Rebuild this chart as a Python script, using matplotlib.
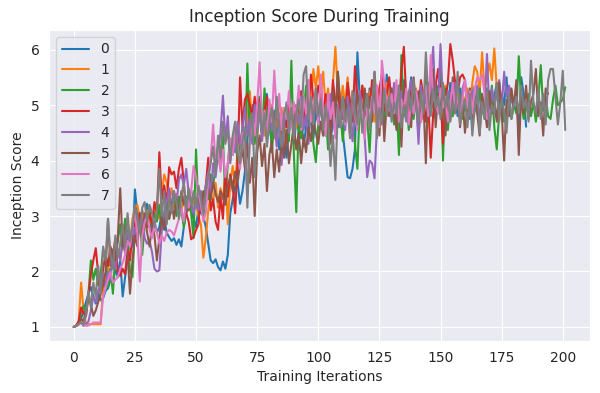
import matplotlib
matplotlib.use("Agg")
import matplotlib.pyplot as plt
import seaborn as sns

labels = ["0", "1", "2", "3", "4", "5", "6", "7"]

s0 = [1.00, 1.02, 1.05, 1.15, 1.30, 1.45, 1.60, 1.72, 1.55, 1.42,
      1.60, 1.48, 1.52, 1.65, 1.70, 1.85, 1.78, 2.05, 1.90, 2.20,
      1.55, 1.90, 2.30, 2.60, 2.45, 3.48, 3.05, 2.90, 3.10, 2.85,
      3.22, 2.95, 2.75, 2.90, 2.70, 2.80, 3.05, 2.95, 2.70, 2.62,
      2.55, 2.60, 2.48, 2.58, 2.45, 2.80, 3.05, 3.20, 3.10, 2.95,
      2.80, 3.15, 3.05, 3.00, 2.80, 2.50, 2.20, 2.15, 2.22, 2.08,
      2.02, 2.18, 2.05, 2.30, 3.05, 3.30, 3.55, 3.60, 3.22, 3.45,
      3.80, 4.40, 4.85, 5.00, 4.70, 5.05, 4.80, 4.55, 4.95, 5.20,
      4.60, 4.35, 4.90, 4.55, 4.20, 4.75, 4.45, 4.05, 4.60, 4.95,
      4.30, 4.70, 4.55, 4.85, 4.25, 4.60, 5.00, 4.70, 4.40, 4.90,
      4.65, 5.05, 4.80, 4.45, 4.95, 4.35, 4.70, 5.10, 4.60, 4.85,
      4.50, 4.10, 3.70, 3.68, 3.85, 4.20, 5.95, 5.10, 4.70, 5.25,
      4.85, 5.30, 4.95, 5.40, 5.00, 4.75, 5.20, 4.90, 5.55, 5.10,
      4.85, 5.35, 5.00, 4.70, 5.20, 5.45, 4.95, 5.10, 5.50, 4.85,
      5.15, 4.80, 5.30, 5.00, 5.45, 4.90, 5.20, 5.05, 4.75, 5.35,
      5.10, 4.95, 5.25, 4.85, 5.40, 5.00, 5.15, 4.80, 5.30, 5.05,
      4.90, 5.20, 4.75, 5.35, 5.00, 4.85, 5.25, 5.10, 4.80, 5.30,
      5.00, 4.85, 5.15, 5.40, 4.95, 5.20, 5.00, 5.50, 4.85, 5.25,
      4.95, 5.35, 4.38, 5.50, 5.20, 4.61]

s1 = [1.00, 1.02, 1.10, 1.80, 1.30, 1.05, 1.05, 1.05, 1.05, 1.05,
      1.05, 1.05, 1.70, 1.90, 2.10, 1.95, 2.25, 2.05, 2.40, 2.20,
      2.60, 2.35, 2.75, 2.50, 2.95, 3.15, 3.20, 2.95, 3.05, 2.80,
      3.10, 2.90, 2.85, 3.05, 3.25, 2.95, 3.40, 3.75, 3.60, 3.30,
      3.50, 3.15, 3.40, 3.25, 3.05, 3.35, 3.20, 3.45, 3.10, 3.30,
      3.20, 3.00, 2.85, 2.25, 2.60, 3.10, 3.40, 3.25, 3.60, 3.15,
      3.50, 3.30, 3.75, 2.85, 3.60, 3.90, 3.55, 4.20, 4.00, 4.50,
      4.35, 4.75, 5.25, 4.60, 4.95, 4.40, 5.15, 4.70, 4.45, 4.90,
      4.55, 5.00, 4.40, 4.75, 4.60, 4.95, 4.30, 4.85, 4.55, 4.70,
      4.95, 4.60, 4.85, 5.20, 4.75, 5.05, 5.45, 5.00, 5.65, 5.30,
      5.70, 5.15, 5.60, 4.95, 5.30, 4.85, 5.40, 6.05, 5.20, 4.95,
      5.35, 5.00, 5.50, 4.90, 5.25, 4.80, 5.10, 4.95, 5.35, 5.05,
      4.85, 5.25, 5.00, 4.70, 5.30, 4.95, 5.15, 4.80, 5.40, 5.05,
      4.90, 5.20, 4.60, 5.35, 5.05, 4.85, 5.25, 4.95, 5.10, 4.80,
      5.30, 4.95, 5.15, 4.75, 5.40, 5.05, 4.90, 5.25, 5.00, 5.20,
      4.85, 5.15, 5.35, 4.95, 5.10, 4.80, 5.25, 5.00, 4.90, 5.20,
      5.05, 5.30, 4.95, 5.40, 5.70, 5.60, 5.20, 5.95, 5.30, 5.50,
      5.75, 5.45, 6.02, 5.30, 4.85]

s2 = [1.00, 1.02, 1.05, 1.30, 1.38, 1.25, 1.60, 2.20, 1.85, 2.05,
      1.75, 1.95, 2.40, 2.20, 1.70, 2.05, 1.60, 2.30, 2.55, 2.85,
      2.40, 2.95, 2.65, 2.00, 1.90, 2.75, 2.60, 3.05, 2.30, 2.85,
      2.95, 3.10, 2.80, 3.05, 2.90, 3.20, 2.75, 3.05, 3.30, 2.95,
      3.20, 3.45, 3.00, 3.35, 3.10, 2.80, 3.15, 3.45, 3.05, 2.60,
      4.20, 3.10, 3.35, 2.95, 3.50, 3.30, 3.75, 3.55, 3.90, 4.15,
      3.85, 4.45, 3.25, 3.95, 4.35, 4.10, 4.50, 3.95, 4.25, 4.60,
      4.05, 5.75, 4.40, 4.95, 4.30, 4.85, 5.15, 4.45, 5.30, 4.70,
      4.95, 4.15, 4.70, 4.40, 4.85, 4.05, 4.60, 4.95, 4.35, 5.80,
      4.15, 3.07, 4.75, 4.40, 4.85, 5.35, 4.60, 4.95, 4.30, 3.97,
      4.65, 5.05, 4.45, 4.90, 4.20, 4.75, 5.25, 4.60, 5.60, 4.90,
      4.35, 4.85, 5.20, 4.55, 4.95, 4.30, 3.85, 5.05, 4.70, 5.25,
      4.75, 4.15, 5.10, 4.90, 5.35, 4.85, 5.20, 4.70, 5.10, 4.95,
      5.25, 4.65, 5.05, 4.10, 5.90, 4.80, 5.15, 4.55, 5.00, 4.75,
      5.20, 4.45, 5.05, 4.85, 5.60, 4.70, 5.15, 4.95, 5.40, 4.85,
      5.65, 4.00, 5.30, 4.55, 5.10, 4.80, 5.35, 4.95, 5.20, 4.75,
      5.10, 4.90, 5.25, 4.70, 5.05, 4.85, 5.30, 4.95, 4.75, 5.15,
      4.90, 5.35, 4.60, 4.20, 4.85, 5.05, 4.70, 4.85, 5.20, 4.75,
      5.00, 4.85, 5.88, 5.05, 4.75, 4.95, 5.20, 4.80, 5.05, 4.70,
      5.10, 5.72, 4.90, 5.15, 4.80, 4.75, 5.10, 5.35, 5.00, 5.05,
      5.10, 5.32]

s3 = [1.00, 1.03, 1.10, 1.35, 1.25, 1.20, 1.55, 1.95, 2.20, 2.42,
      1.95, 1.60, 2.05, 2.30, 2.10, 2.45, 2.25, 2.60, 2.00, 1.92,
      2.05, 1.95, 2.40, 2.20, 2.70, 2.90, 2.65, 3.05, 2.75, 2.95,
      2.80, 3.05, 2.85, 3.25, 3.05, 4.15, 3.30, 3.55, 3.20, 3.88,
      3.75, 3.80, 3.50, 3.85, 4.05, 3.60, 3.05, 2.90, 2.58, 2.62,
      2.75, 2.85, 3.40, 3.15, 3.55, 4.05, 3.10, 3.30, 2.90, 2.75,
      3.35, 2.95, 3.80, 3.35, 3.75, 3.55, 3.05, 3.95, 5.50, 4.60,
      5.10, 5.20, 5.00, 4.80, 5.15, 4.85, 5.10, 4.60, 4.90, 5.15,
      4.70, 4.95, 4.45, 5.05, 4.75, 4.35, 4.90, 4.60, 5.05, 4.80,
      4.55, 5.00, 4.75, 5.25, 4.65, 5.05, 4.85, 5.55, 5.10, 4.90,
      5.35, 5.15, 4.80, 5.20, 4.95, 4.60, 5.45, 5.00, 5.25, 4.85,
      5.10, 4.75, 5.40, 5.05, 4.70, 5.70, 5.15, 4.90, 5.35, 4.80,
      5.20, 4.95, 5.45, 5.10, 4.85, 5.30, 5.55, 4.90, 5.20, 5.50,
      5.05, 4.80, 5.25, 4.95, 5.60, 6.05, 5.10, 4.85, 5.30, 5.00,
      5.25, 4.90, 5.45, 5.15, 4.70, 5.05, 4.05, 4.85, 5.35, 5.65,
      5.20, 4.30, 5.10, 5.40, 6.10, 5.80, 5.40, 5.20, 5.50, 5.55,
      5.45]

s4 = [1.00, 1.02, 1.05, 1.08, 1.02, 1.05, 1.10, 1.30, 1.55, 1.45,
      1.65, 1.80, 1.95, 1.70, 2.00, 1.85, 2.25, 2.05, 2.40, 2.20,
      2.55, 2.35, 2.70, 2.45, 2.85, 2.60, 3.00, 2.75, 2.95, 2.60,
      2.50, 2.55, 2.35, 2.05, 2.00, 2.02, 2.75, 3.05, 3.25, 3.50,
      3.15, 3.45, 3.20, 3.65, 3.75, 3.55, 3.85, 3.40, 3.25, 3.05,
      3.30, 3.10, 3.45, 3.25, 3.55, 3.80, 3.35, 3.95, 3.70, 4.10,
      4.50, 5.17, 4.35, 4.80, 3.95, 4.40, 4.15, 4.70, 4.30, 4.55,
      4.95, 4.45, 4.75, 4.30, 5.00, 4.60, 4.90, 4.35, 4.80, 4.50,
      4.95, 4.55, 4.70, 4.25, 4.85, 3.92, 4.65, 5.05, 4.50, 4.80,
      4.40, 4.95, 4.65, 5.15, 4.55, 4.85, 4.30, 5.00, 4.70, 5.20,
      4.75, 5.05, 4.50, 4.95, 4.65, 5.20, 4.80, 4.45, 5.00, 4.60,
      4.95, 4.55, 5.15, 4.80, 4.35, 5.05, 4.70, 5.25, 4.85, 4.40,
      3.70, 4.00, 3.95, 3.68, 4.60, 5.05, 4.75, 5.30, 4.90, 5.15,
      4.85, 5.40, 5.00, 4.75, 5.25, 4.95, 4.70, 5.20, 5.45, 4.85,
      5.10, 4.30, 5.35, 4.95, 5.15, 4.80, 5.50, 6.05, 4.90, 5.05,
      6.10, 5.00, 4.85, 5.25, 5.20, 4.95, 5.40, 5.05, 4.75, 5.30,
      5.45, 5.05, 4.80, 5.25, 4.95, 5.35, 4.70, 5.15, 4.90, 5.92,
      4.85, 5.30, 5.00, 5.20, 5.45, 4.95, 5.60, 5.15, 5.35, 5.10,
      4.95]

s5 = [1.00, 1.02, 1.05, 1.15, 1.10, 1.30, 1.55, 1.40, 1.20, 1.30,
      1.45, 1.60, 1.75, 2.00, 2.95, 2.10, 2.40, 2.20, 2.60, 3.50,
      2.45, 2.80, 2.30, 1.60, 2.20, 2.65, 2.45, 2.95, 2.60, 3.05,
      2.70, 2.45, 2.85, 2.65, 2.20, 2.60, 3.00, 2.75, 3.15, 2.95,
      3.25, 2.95, 3.30, 3.05, 3.45, 3.20, 3.35, 3.10, 3.25, 3.40,
      3.20, 3.35, 3.15, 3.45, 3.25, 3.50, 3.30, 3.60, 3.40, 3.25,
      3.45, 3.35, 3.20, 3.55, 3.70, 3.45, 3.80, 3.60, 3.95, 4.20,
      3.85, 4.30, 3.60, 4.05, 3.00, 4.15, 4.45, 3.90, 4.30, 3.45,
      4.10, 4.35, 3.70, 4.20, 3.80, 4.40, 4.05, 4.55, 3.95, 4.30,
      4.65, 4.20, 4.50, 3.95, 4.45, 4.15, 4.60, 4.35, 4.75, 4.50,
      4.30, 4.70, 4.45, 4.85, 4.55, 4.30, 5.25, 4.80, 5.60, 5.05,
      4.75, 5.10, 4.85, 4.55, 5.00, 4.70, 5.20, 4.95, 4.60, 5.30,
      4.85, 5.15, 4.70, 5.60, 4.95, 4.45, 5.25, 4.35, 5.05, 4.80,
      5.30, 4.95, 4.55, 5.20, 4.25, 5.35, 4.90, 5.15, 4.60, 5.50,
      4.95, 5.25, 4.70, 5.10, 3.95, 5.40, 4.85, 5.65, 4.60, 5.20,
      4.90, 5.35, 4.45, 5.05, 4.75, 5.50, 4.85, 5.25, 4.60, 5.10,
      4.50, 4.95, 5.30, 4.70, 5.15, 4.85, 4.45, 5.20, 4.95, 4.60,
      5.25, 4.85, 5.05, 4.70, 5.40, 4.90, 4.00, 5.10, 4.80, 5.30,
      4.95, 5.45, 4.10, 5.20, 4.85, 5.35, 4.75, 5.05, 5.20, 5.65,
      4.80, 5.05, 4.45, 5.30, 5.20]

s6 = [1.00, 1.02, 1.05, 1.08, 1.05, 1.02, 1.03, 1.05, 1.08, 1.08,
      1.08, 1.08, 1.55, 1.70, 1.85, 2.00, 1.80, 1.85, 1.90, 2.05,
      2.15, 2.30, 2.55, 2.45, 2.80, 3.05, 2.70, 1.82, 2.65, 2.90,
      3.00, 2.75, 2.60, 2.85, 2.70, 2.50, 2.65, 2.55, 2.70, 2.75,
      2.72, 2.65, 2.80, 2.95, 3.15, 2.90, 3.30, 3.15, 3.45, 3.90,
      3.70, 3.40, 3.20, 2.90, 3.05, 3.65, 4.05, 4.65, 3.95, 4.25,
      3.80, 4.20, 3.70, 3.95, 4.40, 4.10, 4.55, 4.30, 3.85, 4.50,
      4.20, 3.40, 4.35, 4.75, 4.45, 5.00, 5.77, 4.65, 4.90, 4.40,
      5.10, 4.70, 5.62, 4.85, 5.20, 4.55, 4.95, 4.75, 5.25, 4.60,
      5.05, 4.80, 5.35, 4.55, 5.15, 4.85, 5.45, 4.70, 5.00, 5.30,
      4.65, 5.55, 4.90, 4.45, 5.20, 4.75, 5.05, 4.40, 4.95, 4.60,
      5.10, 4.65, 4.90, 4.45, 5.20, 4.80, 4.55, 5.05, 4.85, 4.40,
      4.95, 4.70, 5.15, 4.85, 5.35, 4.60, 5.80, 5.40, 5.05, 4.90,
      5.20, 4.85, 5.45, 4.70, 5.10, 4.90, 5.30, 4.65, 5.05, 4.85,
      5.25, 4.95, 4.70, 5.15, 5.35, 4.80, 5.90, 5.10, 5.05, 4.85,
      5.30, 4.95, 5.15, 4.70, 5.05, 5.40, 4.90, 5.20, 4.75, 5.10,
      5.45, 4.95, 5.25, 4.85, 5.30, 5.50, 5.45, 5.55, 5.20, 4.75,
      4.90]

s7 = [1.00, 1.02, 1.05, 1.08, 1.05, 1.20, 1.65, 1.35, 1.80, 1.55,
      2.10, 1.60, 2.45, 2.20, 2.95, 2.30, 2.05, 2.65, 2.25, 2.50,
      2.85, 2.45, 3.05, 2.55, 2.80, 3.20, 2.95, 2.70, 3.15, 3.25,
      2.90, 3.20, 3.05, 2.80, 3.10, 3.85, 3.00, 3.45, 2.85, 3.30,
      3.05, 3.40, 3.25, 2.95, 3.35, 3.60, 3.10, 3.50, 3.20, 3.45,
      3.15, 3.55, 3.30, 3.05, 3.45, 3.70, 3.95, 4.25, 3.75, 4.45,
      4.05, 4.70, 4.30, 4.55, 4.00, 4.45, 4.70, 4.15, 3.95, 4.35,
      4.60, 3.15, 4.50, 4.85, 3.70, 4.40, 5.05, 4.50, 4.85, 4.25,
      4.70, 4.95, 4.45, 5.15, 4.60, 4.25, 4.85, 5.00, 4.55, 4.95,
      4.40, 4.85, 5.10, 4.60, 5.55, 5.70, 4.75, 5.15, 4.65, 5.30,
      4.80, 5.10, 4.55, 5.00, 4.70, 3.90, 4.45, 3.65, 4.95, 4.60,
      5.15, 4.70, 4.95, 4.40, 5.25, 4.85, 4.65, 5.10, 4.50, 4.90,
      5.20, 4.55, 5.00, 5.60, 4.40, 4.95, 4.65, 5.30, 4.80, 5.15,
      4.70, 5.05, 4.85, 5.35, 4.60, 5.00, 4.75, 5.25, 4.90, 5.45,
      4.95, 4.70, 5.20, 4.85, 5.95, 5.10, 4.80, 5.30, 4.95, 5.15,
      4.75, 5.40, 4.95, 5.20, 4.70, 5.05, 4.85, 5.60, 4.65, 4.95,
      5.10, 4.60, 5.20, 4.45, 4.95, 5.25, 4.50, 5.05, 4.75, 5.30,
      4.55, 5.00, 4.85, 5.40, 4.70, 5.10, 4.90, 4.50, 5.20, 4.75,
      5.00, 5.15, 4.85, 5.35, 4.95, 5.10, 4.70, 5.80, 5.05, 4.85,
      5.30, 4.75, 5.20, 4.65, 5.45, 5.65, 5.65, 5.15, 4.65, 5.05,
      5.62, 4.55]

series = [s0, s1, s2, s3, s4, s5, s6, s7]

sns.set_style("darkgrid")
fig, ax = plt.subplots(figsize=(6.0, 3.93), dpi=100)
for lab, ys in zip(labels, series):
    ax.plot(range(len(ys)), ys, label=lab)

ax.set_title("Inception Score During Training")
ax.set_xlabel("Training Iterations")
ax.set_ylabel("Inception Score")
ax.legend(loc="upper left")
fig.subplots_adjust(left=0.082, right=0.983, top=0.924, bottom=0.132)
fig.savefig("out.png", dpi=100)
